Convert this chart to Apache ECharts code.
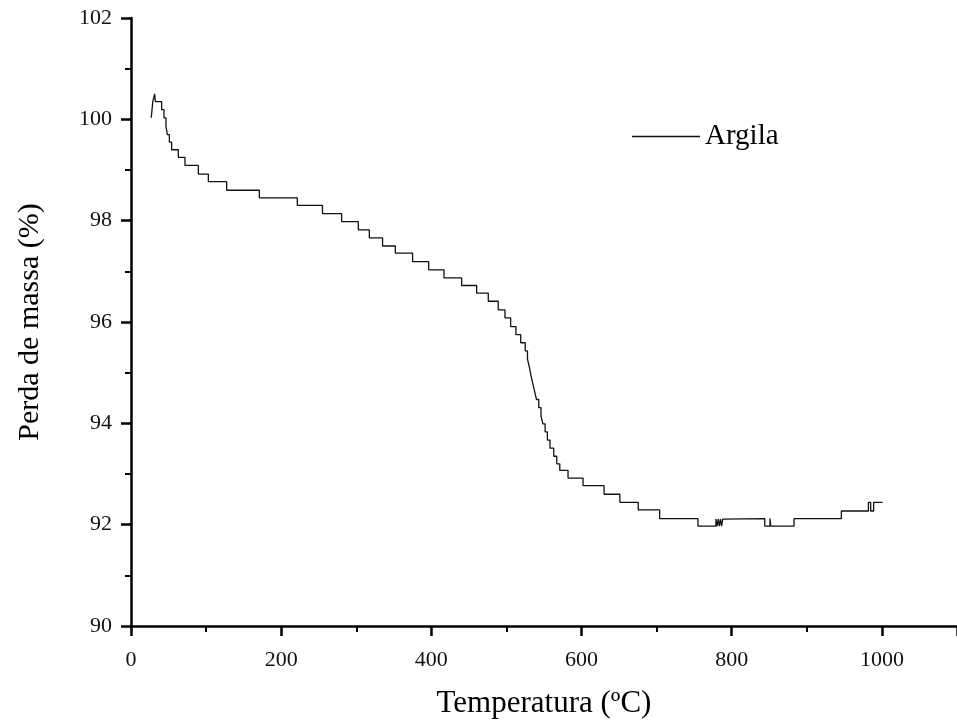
<!DOCTYPE html>
<html>
<head>
<meta charset="utf-8">
<script src="https://cdn.jsdelivr.net/npm/echarts@6/dist/echarts.min.js"></script>
<style>
  html, body { margin: 0; padding: 0; background: #fff; }
  #chart { width: 957px; height: 724px; }
</style>
</head>
<body>
<div id="chart"></div>
<script>
// TGA curve: temperature where each level starts, and the level
const temps = [27, 29, 31.5, 32.5, 40.8, 43.9, 46.6, 48.4, 51.1, 54.1, 63, 71.9, 89.7, 103, 127.4, 170.9,
  221.5, 255, 280.5, 302.7, 317.4, 335, 352, 375, 396.4, 416.8, 440.3, 460.3, 475.8, 489, 498, 505.6, 512.6,
  519, 525, 528, 530.5, 532.5, 535, 537.5, 540, 543, 546, 548.5, 551.5, 554.5, 558, 563, 567, 571, 582,
  602, 630, 651, 675.5, 704, 755, 779, 780.5, 782, 783.5, 785, 786.5, 788, 789, 844, 851, 852, 883, 946, 982, 985, 989, 1001];
const mass = [100.03, 100.35, 100.5, 100.35, 100.19, 100.03, 99.86, 99.70, 99.55, 99.40, 99.25, 99.09, 98.92, 98.77, 98.60, 98.45,
  98.30, 98.14, 97.98, 97.82, 97.66, 97.50, 97.36, 97.19, 97.03, 96.87, 96.72, 96.57, 96.41, 96.24, 96.08, 95.91, 95.75,
  95.59, 95.43, 95.27, 95.11, 94.95, 94.79, 94.63, 94.47, 94.31, 94.15, 93.99, 93.83, 93.67, 93.51, 93.35, 93.20, 93.07, 92.92,
  92.77, 92.60, 92.44, 92.29, 92.12, 91.97, 92.11, 91.97, 92.11, 91.97, 92.11, 91.97, 92.11, 92.12, 91.97, 92.12, 91.97, 92.12, 92.27, 92.44, 92.27, 92.44, 92.44];
const seriesName = 'Argila';
const xTitle = 'Temperatura (ºC)';
const yTitle = 'Perda de massa (%)';

const serif = 'Liberation Serif';
const chart = echarts.init(document.getElementById('chart'));
const option = {
  backgroundColor: '#fff',
  animation: false,
  grid: { left: 131, top: 18, right: 0, bottom: 96 },
  legend: {
    data: [seriesName],
    left: 627,
    top: 117,
    icon: 'rect',
    itemWidth: 68,
    itemHeight: 1.5,
    itemGap: 5,
    textStyle: { fontFamily: serif, fontSize: 29, color: '#000', padding: [0, 0, 0, 0] }
  },
  xAxis: {
    type: 'value',
    min: 0,
    max: 1100,
    interval: 200,
    name: xTitle,
    nameLocation: 'middle',
    nameGap: 62,
    nameTextStyle: { fontFamily: serif, fontSize: 31, color: '#000' },
    splitLine: { show: false },
    axisLine: { onZero: false, lineStyle: { color: '#000', width: 2.5 } },
    axisTick: { inside: false, length: 10, lineStyle: { color: '#000', width: 2.5 } },
    minorTick: { show: true, splitNumber: 2, length: 6, lineStyle: { color: '#000', width: 2 } },
    axisLabel: {
      fontFamily: serif, fontSize: 22, color: '#111', margin: 23, showMaxLabel: false,
      formatter: v => String(v)
    }
  },
  yAxis: {
    type: 'value',
    min: 90,
    max: 102,
    interval: 2,
    name: yTitle,
    nameLocation: 'middle',
    nameGap: 86,
    nameTextStyle: { fontFamily: serif, fontSize: 30, color: '#000' },
    splitLine: { show: false },
    axisLine: { lineStyle: { color: '#000', width: 2.5 } },
    axisTick: { inside: false, length: 10, lineStyle: { color: '#000', width: 2.5 } },
    minorTick: { show: true, splitNumber: 2, length: 6, lineStyle: { color: '#000', width: 2 } },
    axisLabel: { fontFamily: serif, fontSize: 22, color: '#111', margin: 19 }
  },
  series: [{
    name: seriesName,
    type: 'line',
    step: 'end',
    showSymbol: false,
    lineStyle: { color: '#111', width: 1.3 },
    itemStyle: { color: '#111' },
    data: temps.map((t, i) => [t, mass[i]])
  }]
};
chart.setOption(option);
window.addEventListener('resize', () => chart.resize());
</script>
</body>
</html>
